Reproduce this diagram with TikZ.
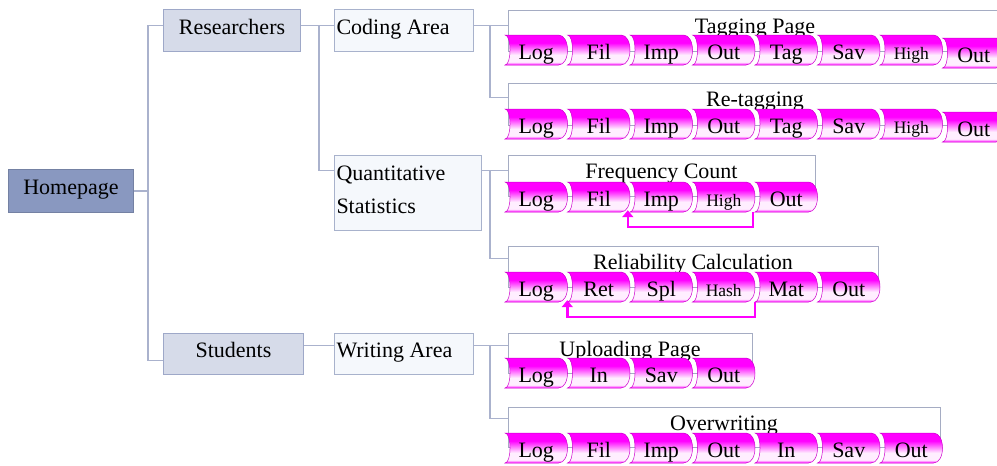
\documentclass[tikz,border=0pt]{standalone}
\usepackage{fontspec}
\setmainfont{Liberation Serif}
\usetikzlibrary{arrows.meta}
\definecolor{homefill}{RGB}{137,152,192}
\definecolor{l1fill}{RGB}{214,219,233}
\definecolor{l1draw}{RGB}{158,168,200}
\definecolor{l2fill}{RGB}{245,248,252}
\definecolor{l2draw}{RGB}{168,178,204}
\definecolor{connc}{RGB}{170,178,205}
\definecolor{contdraw}{RGB}{165,172,195}
\definecolor{mag}{RGB}{255,0,255}
\definecolor{tabwhite}{RGB}{255,238,255}
\definecolor{tabedge}{RGB}{205,0,205}
\pgfdeclareverticalshading{tabshade}{100bp}{color(0bp)=(mag); color(25bp)=(mag); color(30bp)=(tabwhite); color(42bp)=(tabwhite); color(62bp)=(mag); color(100bp)=(mag)}
\newcommand{\mytabfont}{\fontsize{22}{26}\selectfont}
\newcommand{\mysmallfont}{\fontsize{17.5}{20}\selectfont}
\newcommand{\mytab}[5][\mytabfont]{%
  \shade[tabshape] (#3,#4) -- ({#3+53.5},#4) .. controls ({#3+65.5},#4) and ({#3+65.5},{#4+30}) .. ({#3+53.5},{#4+30}) -- (#3,{#4+30}) .. controls ({#3+6.7},{#4+30}) and ({#3+6.7},#4) .. (#3,#4) -- cycle;
  \node[tablabel, font=#1] (#2) at ({#3+31.25},{#4+15}) {#5};
}
\begin{document}
\begin{tikzpicture}[x=1pt,y=-1pt,
  every node/.style={font=\mytabfont},
  conn/.style={draw=connc, line width=1.5pt},
  homebox/.style={fill=homefill, draw=homefill!85!black, line width=0.8pt, inner sep=0pt, minimum width=125pt, minimum height=43pt, text height=13pt, text depth=6pt, anchor=north west},
  lvlone/.style={fill=l1fill, draw=l1draw, line width=1pt, inner sep=0pt, text height=13pt, text depth=6pt, anchor=north west},
  lvltwo/.style={fill=l2fill, draw=l2draw, line width=1pt, inner ysep=0pt, inner xsep=2pt, text height=13pt, text depth=6pt, anchor=north west},
  contbox/.style={draw=contdraw, fill=white, line width=1pt, inner sep=0pt, anchor=north west},
  ctitle/.style={anchor=base, inner sep=0pt},
  tabshape/.style={shading=tabshade, draw=tabedge, line width=0.5pt},
  tablabel/.style={inner sep=0pt, minimum width=62.5pt, minimum height=30pt, text height=18pt, text depth=0pt},
  looparrow/.style={draw=mag, line width=2.4pt, -{Triangle[length=7pt,width=11pt]}, shorten >=-2pt}
]
\useasboundingbox (0,0) rectangle (997,466);
\clip (0,0) rectangle (997,466);

% level boxes
\node[homebox] (home) at (8,169) {Homepage};
\node[lvlone, minimum width=137pt, minimum height=42pt] (res) at (163,9) {Researchers};
\node[lvlone, minimum width=140pt, minimum height=41pt] (stu) at (163,333) {\makebox[126pt][c]{Students}};
\node[lvltwo, minimum width=139pt, minimum height=42pt] (cod) at (334,9) {\makebox[135pt][l]{Coding Area}};
\node[lvltwo, minimum width=147pt, minimum height=75pt, text width=143pt, align=left, text depth=39pt, font=\fontsize{22}{33}\selectfont] (qs) at (334,155) {Quantitative\\Statistics};
\node[lvltwo, minimum width=139pt, minimum height=41pt] (wri) at (334,333) {\makebox[135pt][l]{Writing Area}};

% containers
\node[contbox, minimum width=494pt, minimum height=41pt] (tagc) at (508,10) {};
\node[contbox, minimum width=494pt, minimum height=42pt] (retc) at (508,83) {};
\node[contbox, minimum width=307pt, minimum height=41pt] (freqc) at (508,155) {};
\node[contbox, minimum width=370pt, minimum height=41pt] (relc) at (508,246) {};
\node[contbox, minimum width=244pt, minimum height=40pt] (uplc) at (508,333) {};
\node[contbox, minimum width=432pt, minimum height=40pt] (ovrc) at (508,407) {};

\node[ctitle] (tagt) at (755,33) {Tagging Page};
\node[ctitle] (rett) at (755,106) {Re-tagging};
\node[ctitle] (freqt) at (661.5,178) {Frequency Count};
\node[ctitle] (relt) at (693,269) {Reliability Calculation};
\node[ctitle] (uplt) at (630,356) {Uploading Page};
\node[ctitle] (ovrt) at (724,430) {Overwriting};

% connectors
\draw[conn] (home.east) -- ++(14,0) coordinate (j0);
\draw[conn] ([yshift=5pt]res.west) -| (j0) |- ([yshift=-6.5pt]stu.west);
\draw[conn] ([yshift=5pt]res.east) -- ++(18,0) coordinate (j1) -- ([yshift=5pt]cod.west);
\draw[conn] (j1) |- ([yshift=22.5pt]qs.west);
\draw[conn] ([yshift=5pt]cod.east) -- ++(16,0) coordinate (j2) |- ([yshift=5.5pt]tagc.west);
\draw[conn] (j2) |- ([yshift=7pt]retc.west);
\draw[conn] ([yshift=22.5pt]qs.east) -- ++(8,0) coordinate (j3) |- ([yshift=5.5pt]freqc.west);
\draw[conn] (j3) |- ([yshift=8.5pt]relc.west);
\draw[conn] ([yshift=8.5pt]stu.east) -- ([yshift=8.5pt]wri.west);
\draw[conn] ([yshift=8.5pt]wri.east) -- ++(16,0) coordinate (j4) |- ([yshift=8pt]uplc.west);
\draw[conn] (j4) |- ([yshift=9pt]ovrc.west);

% Tagging Page tabs
\mytab{ta1}{505}{35}{Log}
\mytab{ta2}{567.5}{35}{Fil}
\mytab{ta3}{630}{35}{Imp}
\mytab{ta4}{692.5}{35}{Out}
\mytab{ta5}{755}{35}{Tag}
\mytab{ta6}{817.5}{35}{Sav}
\mytab[\mysmallfont]{ta7}{880}{35}{High}
\mytab{ta8}{942.5}{38}{Out}
% Re-tagging tabs
\mytab{rt1}{505}{109}{Log}
\mytab{rt2}{567.5}{109}{Fil}
\mytab{rt3}{630}{109}{Imp}
\mytab{rt4}{692.5}{109}{Out}
\mytab{rt5}{755}{109}{Tag}
\mytab{rt6}{817.5}{109}{Sav}
\mytab[\mysmallfont]{rt7}{880}{109}{High}
\mytab{rt8}{942.5}{112}{Out}
% Frequency Count tabs
\mytab{fc1}{505}{182}{Log}
\mytab{fc2}{567.5}{182}{Fil}
\mytab{fimp}{630}{182}{Imp}
\mytab[\mysmallfont]{fhigh}{692.5}{182}{High}
\mytab{fc5}{755}{182}{Out}
% Reliability tabs
\mytab{rc1}{505}{272}{Log}
\mytab{rret}{567.5}{272}{Ret}
\mytab{rc3}{630}{272}{Spl}
\mytab[\mysmallfont]{rhash}{692.5}{272}{Hash}
\mytab{rc5}{755}{272}{Mat}
\mytab{rc6}{817.5}{272}{Out}
% Uploading tabs
\mytab{up1}{505}{358}{Log}
\mytab{up2}{567.5}{358}{In}
\mytab{up3}{630}{358}{Sav}
\mytab{up4}{692.5}{358}{Out}
% Overwriting tabs
\mytab{ov1}{505}{433}{Log}
\mytab{ov2}{567.5}{433}{Fil}
\mytab{ov3}{630}{433}{Imp}
\mytab{ov4}{692.5}{433}{Out}
\mytab{ov5}{755}{433}{In}
\mytab{ov6}{817.5}{433}{Sav}
\mytab{ov7}{880}{433}{Out}

% loop arrows
\draw[looparrow] ([xshift=-2pt]fhigh.south east) -- ++(0,15) -| ([xshift=-2pt]fimp.south west);
\draw[looparrow] ([xshift=-0.5pt]rhash.south east) -- ++(0,15) -| ([xshift=0pt]rret.south west);
\end{tikzpicture}
\end{document}
